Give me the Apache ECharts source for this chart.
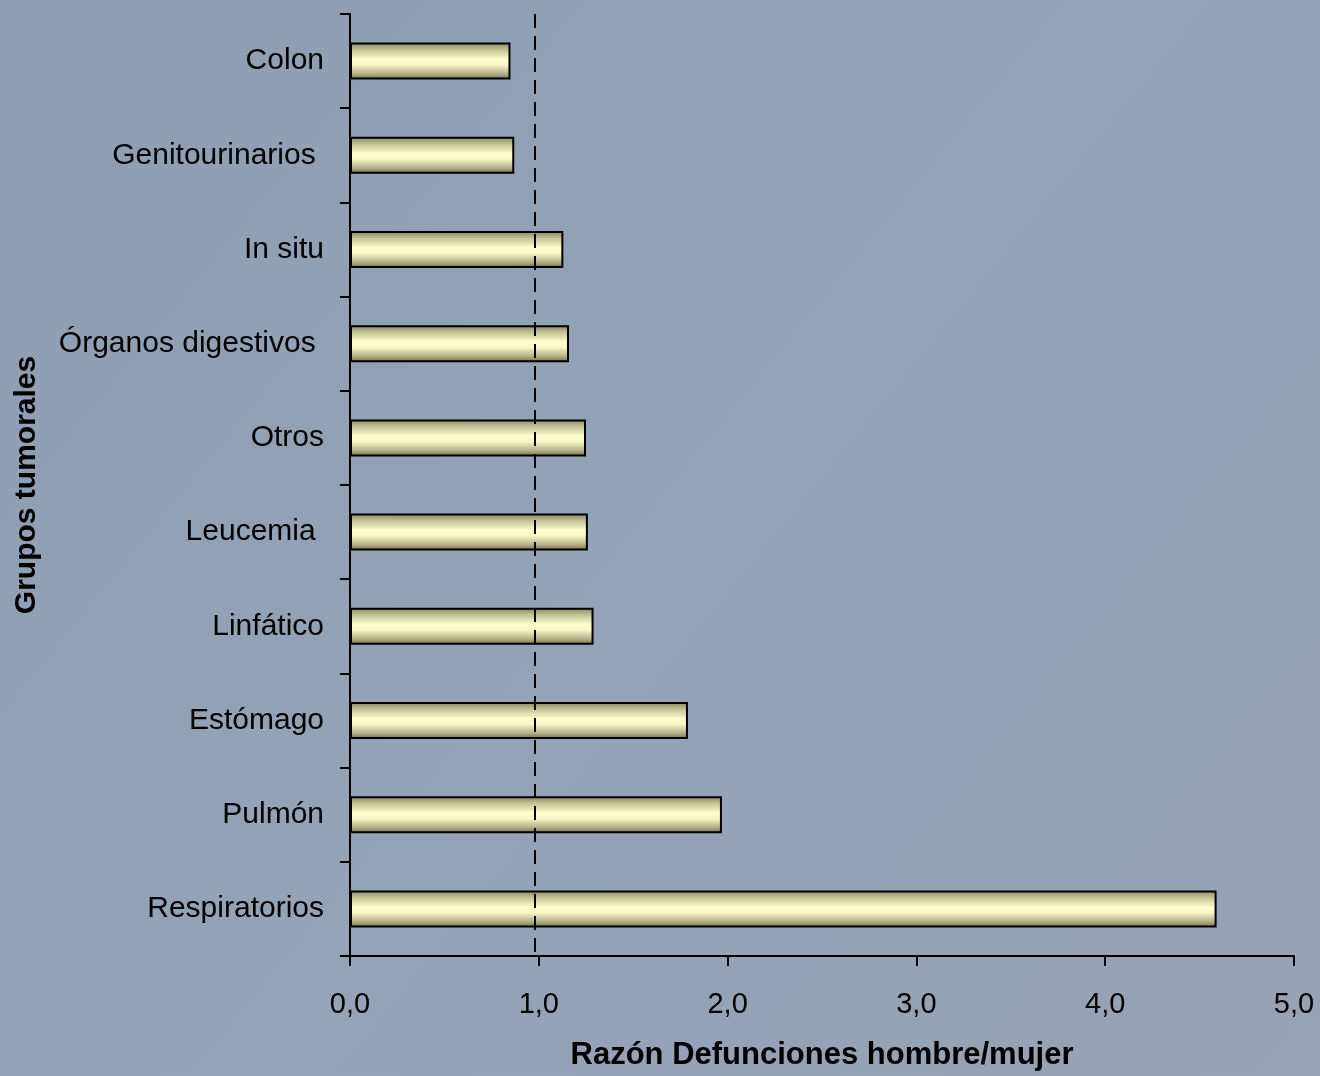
<!DOCTYPE html>
<html>
<head>
<meta charset="utf-8">
<script src="https://cdn.jsdelivr.net/npm/echarts@6/dist/echarts.min.js"></script>
<style>
  html, body { margin: 0; padding: 0; width: 1320px; height: 1076px; overflow: hidden; }
  #chart { width: 1320px; height: 1076px; }
</style>
</head>
<body>
<div id="chart"></div>
<script>
// Data (top to bottom as shown)
const categories = ["Colon", "Genitourinarios ", "In situ", "Órganos digestivos ", "Otros", "Leucemia ", "Linfático", "Estómago", "Pulmón", "Respiratorios"];
const ratios = [0.85, 0.87, 1.13, 1.16, 1.25, 1.26, 1.29, 1.79, 1.97, 4.59];
const referenceValue = [0.985];
const xTicks = [0, 1, 2, 3, 4, 5];
const xTitle = "Razón Defunciones hombre/mujer";
const yTitle = "Grupos tumorales";

const FONT = "'Liberation Sans', Arial, sans-serif";
const chart = echarts.init(document.getElementById('chart'));

chart.setOption({
  backgroundColor: {
    type: 'linear', x: 0, y: 0, x2: 1, y2: 1,
    colorStops: [
      { offset: 0, color: '#8d9eb3' },
      { offset: 0.5, color: '#93a3b8' },
      { offset: 1, color: '#96a2b6' }
    ]
  },
  animation: false,
  grid: { left: 350, right: 26, top: 14, bottom: 118, containLabel: false },
  xAxis: {
    type: 'value',
    min: xTicks[0],
    max: xTicks[xTicks.length - 1],
    interval: 1,
    name: xTitle,
    nameLocation: 'middle',
    nameGap: 84,
    nameTextStyle: { fontFamily: FONT, fontSize: 31, fontWeight: 'bold', color: '#000' },
    axisLine: { show: true, lineStyle: { color: '#000', width: 2 } },
    axisTick: { show: true, length: 10, lineStyle: { color: '#000', width: 2 } },
    axisLabel: {
      fontFamily: FONT, fontSize: 29, color: '#000', margin: 34,
      formatter: v => v.toFixed(1).replace('.', ',')
    },
    splitLine: { show: false }
  },
  yAxis: {
    type: 'category',
    data: categories,
    inverse: true,
    name: yTitle,
    nameLocation: 'middle',
    nameGap: 308,
    nameRotate: 90,
    nameTextStyle: { fontFamily: FONT, fontSize: 30, fontWeight: 'bold', color: '#000' },
    axisLine: { show: true, lineStyle: { color: '#000', width: 2 } },
    axisTick: { show: true, length: 10, alignWithLabel: false, lineStyle: { color: '#000', width: 2 } },
    axisLabel: { fontFamily: FONT, fontSize: 30, color: '#000', margin: 26 },
    splitLine: { show: false }
  },
  series: [{
    type: 'bar',
    data: ratios,
    barWidth: 37,
    itemStyle: {
      borderColor: '#000',
      borderWidth: 2,
      color: {
        type: 'linear', x: 0, y: 0, x2: 0, y2: 1,
        colorStops: [
          { offset: 0, color: '#86835c' },
          { offset: 0.2, color: '#c6c497' },
          { offset: 0.45, color: '#fdfdce' },
          { offset: 0.6, color: '#f8f8c6' },
          { offset: 0.85, color: '#b0ad84' },
          { offset: 1, color: '#6f6c4a' }
        ]
      }
    },
    markLine: {
      silent: true,
      symbol: 'none',
      label: { show: false },
      lineStyle: { color: '#000', width: 2, type: [14, 8] },
      data: referenceValue.map(v => ({ xAxis: v }))
    }
  }]
});
</script>
</body>
</html>
